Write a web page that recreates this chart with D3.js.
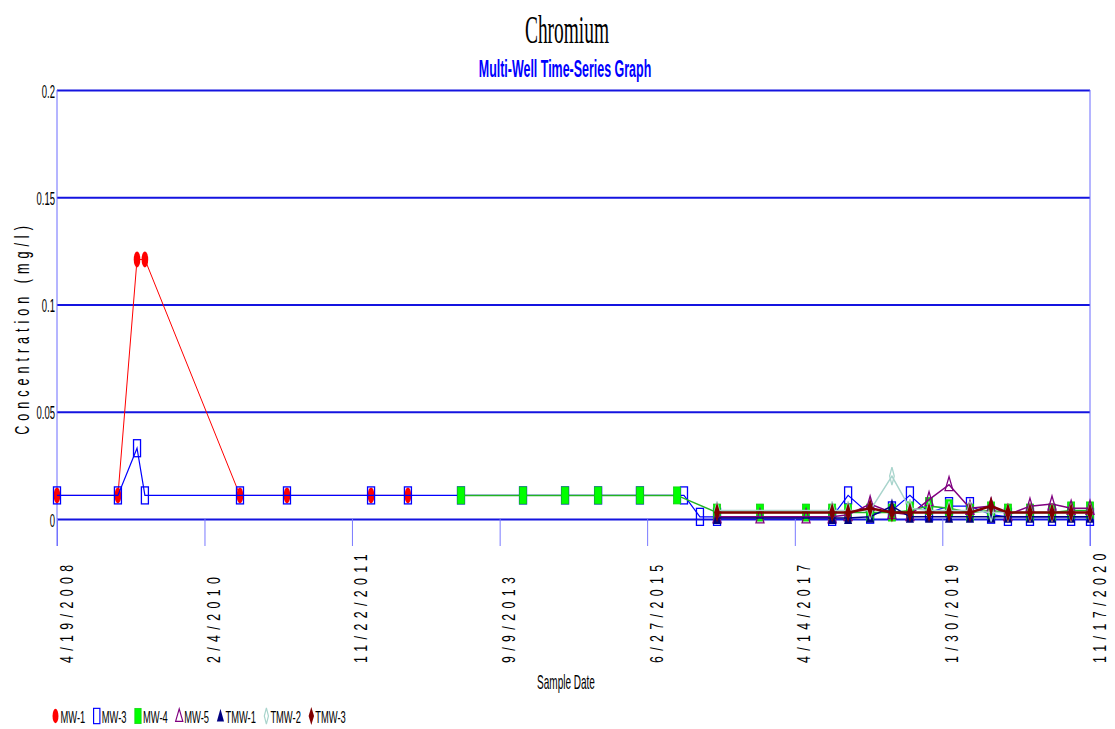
<!DOCTYPE html>
<html>
<head>
<meta charset="utf-8">
<script src="https://cdnjs.cloudflare.com/ajax/libs/d3/7.8.5/d3.min.js"></script>
<style>
  body { margin: 0; background: #fff; }
  text { font-family: "Liberation Sans", Arial, sans-serif; }
</style>
</head>
<body>
<div id="chart"></div>
<script>
// sample dates shared by all wells (null = well not sampled that day)
var sampleDates = ["2008-04-19", "2009-01-15", "2009-04-10", "2009-05-15", "2010-07-12",
  "2011-02-06", "2012-02-15", "2012-07-28", "2013-03-21", "2013-12-22", "2014-06-27",
  "2014-11-21", "2015-05-26", "2015-11-07", "2015-12-08", "2016-02-17", "2016-05-03",
  "2016-11-10", "2017-06-03", "2017-09-27", "2017-12-07", "2018-03-15", "2018-06-20",
  "2018-09-08", "2018-12-02", "2019-03-01", "2019-06-02", "2019-09-04", "2019-11-18",
  "2020-02-24", "2020-06-01", "2020-08-25", "2020-11-17"];

var mw1 = [0.011, 0.011, 0.121, 0.121, 0.011, 0.011, 0.011, 0.011, null, null, null,
  null, null, null, null, null, null, null, null, null, null, null, null, null, null,
  null, null, null, null, null, null, null, null];
var mw3 = [0.011, 0.011, 0.033, 0.011, 0.011, 0.011, 0.011, 0.011, 0.011, 0.011, 0.011,
  0.011, 0.011, null, 0.011, 0.001, 0.001, null, null, 0.001, 0.011, 0.002, 0.004,
  0.011, 0.003, 0.006, 0.006, 0.002, 0.001, 0.001, 0.001, 0.001, 0.001];
var mw4 = [null, null, null, null, null, null, null, null, 0.011, 0.011, 0.011,
  0.011, 0.011, 0.011, null, null, 0.003, 0.003, 0.003, 0.003, 0.003, 0.003, 0.003,
  0.004, 0.006, 0.005, 0.003, 0.004, 0.003, 0.003, 0.003, 0.004, 0.004];
var mw5 = [null, null, null, null, null, null, null, null, null, null, null,
  null, null, null, null, null, 0.001, 0.001, 0.001, 0.001, 0.002, 0.007, 0.003,
  0.002, 0.009, 0.016, 0.005, 0.006, 0.002, 0.006, 0.007, 0.005, 0.005];
var tmw1 = [null, null, null, null, null, null, null, null, null, null, null,
  null, null, null, null, null, 0.0005, null, null, 0.0005, 0.0005, 0.001, 0.006,
  0.001, 0.001, 0.001, 0.001, 0.001, 0.001, 0.001, 0.001, 0.001, 0.001];
var tmw2 = [null, null, null, null, null, null, null, null, null, null, null,
  null, null, null, null, null, 0.004, null, null, 0.004, 0.004, 0.004, 0.020,
  0.005, 0.004, 0.004, 0.004, 0.003, 0.003, 0.003, 0.003, 0.003, 0.003];
var tmw3 = [null, null, null, null, null, null, null, null, null, null, null,
  null, null, null, null, null, 0.003, null, null, 0.003, 0.003, 0.005, 0.003,
  0.003, 0.003, 0.003, 0.003, 0.006, 0.003, 0.003, 0.003, 0.003, 0.003];

var wellNames = ["MW-1", "MW-3", "MW-4", "MW-5", "TMW-1", "TMW-2", "TMW-3"];

var xTickDates = ["2008-04-19", "2010-02-04", "2011-11-22", "2013-09-09", "2015-06-27",
  "2017-04-14", "2019-01-30", "2020-11-17"];
var xTickLabels = ["4/19/2008", "2/4/2010", "11/22/2011", "9/9/2013", "6/27/2015",
  "4/14/2017", "1/30/2019", "11/17/2020"];
var yTicks = [0, 0.05, 0.1, 0.15, 0.2];
var yTickLabels = ["0", "0.05", "0.1", "0.15", "0.2"];

// ---- layout ----
var W = 1115, H = 729;
var plotLeft = 57, plotRight = 1090, plotTop = 90, zeroY = 519, frameBottom = 546;
var parse = d3.timeParse("%Y-%m-%d");

var svg = d3.select("#chart").append("svg")
    .attr("width", W)
    .attr("height", H);

var x = d3.scaleTime()
    .domain([parse(xTickDates[0]), parse(xTickDates[xTickDates.length - 1])])
    .range([plotLeft, plotRight]);
var y = d3.scaleLinear()
    .domain([0, 0.2])
    .range([zeroY, plotTop]);

// titles (the original uses tall narrow type, so squeeze horizontally)
svg.append("text")
    .attr("transform", "translate(567,43) scale(0.485,1)")
    .attr("text-anchor", "middle")
    .style("font-family", "'Liberation Serif', 'Times New Roman', serif")
    .style("font-size", "40px")
    .text("Chromium");

svg.append("text")
    .attr("transform", "translate(565,77) scale(0.53,1)")
    .attr("text-anchor", "middle")
    .style("font-size", "23.5px")
    .style("font-weight", "bold")
    .attr("fill", "#0000ff")
    .text("Multi-Well Time-Series Graph");

// y axis with gridlines
var yAxis = svg.append("g")
    .attr("transform", "translate(" + plotLeft + ",0)")
    .call(d3.axisLeft(y)
        .tickValues(yTicks)
        .tickSize(-(plotRight - plotLeft))
        .tickFormat(function(d, i) { return yTickLabels[i]; }));
yAxis.select(".domain").remove();
yAxis.selectAll(".tick line")
    .attr("stroke", "#1414e0")
    .attr("stroke-width", 2);
yAxis.selectAll(".tick text")
    .attr("x", null)
    .attr("dy", null)
    .attr("transform", "translate(-2,7) scale(0.5,1)")
    .style("font-size", "19px")
    .attr("fill", "#000");

// x axis ticks hanging below zero line
var xAxis = svg.append("g")
    .attr("transform", "translate(0," + zeroY + ")")
    .call(d3.axisBottom(x)
        .tickValues(xTickDates.map(parse))
        .tickSize(frameBottom - zeroY)
        .tickFormat(function(d, i) { return xTickLabels[i]; }));
xAxis.select(".domain").remove();
xAxis.selectAll(".tick line")
    .attr("stroke", "#7a7aff")
    .attr("stroke-width", 1);
xAxis.selectAll(".tick text")
    .attr("x", null)
    .attr("y", null)
    .attr("dy", null)
    .attr("text-anchor", "start")
    .attr("transform", "translate(15,144) rotate(-90) scale(0.65,1)")
    .style("font-size", "19px")
    .style("letter-spacing", "8.3px")
    .attr("fill", "#000");

// frame sides
[plotLeft, plotRight].forEach(function(px) {
  svg.append("line")
      .attr("x1", px).attr("x2", px)
      .attr("y1", plotTop).attr("y2", frameBottom)
      .attr("stroke", "#6a6aff")
      .attr("stroke-width", 1);
});

// axis titles
svg.append("text")
    .attr("transform", "translate(29,328) rotate(-90) scale(0.6,1)")
    .attr("text-anchor", "middle")
    .style("font-size", "21px")
    .style("letter-spacing", "8.3px")
    .text("Concentration (mg/l)");

svg.append("text")
    .attr("transform", "translate(566,689) scale(0.5,1)")
    .attr("text-anchor", "middle")
    .style("font-size", "20px")
    .text("Sample Date");

// ---- series ----
var styles = [
  { line: "#ff0000", width: 1,   shape: "ellipse",  color: "#ff0000", filled: true },
  { line: "#0000ff", width: 1.2, shape: "square",   color: "#0000ff", filled: false },
  { line: "#22b422", width: 1.5, shape: "square",   color: "#00ff00", filled: true },
  { line: "#800080", width: 1.5, shape: "triangle", color: "#800080", filled: false },
  { line: "#000080", width: 1.5, shape: "triangle", color: "#000080", filled: true },
  { line: "#a8d4cc", width: 1.5, shape: "diamond",  color: "#a8d4cc", filled: false },
  { line: "#800000", width: 2.5, shape: "diamond",  color: "#800000", filled: true }
];
var seriesValues = [mw1, mw3, mw4, mw5, tmw1, tmw2, tmw3];

function drawSymbol(g, st) {
  var s;
  if (st.shape === "ellipse") {
    s = g.append("ellipse").attr("rx", 3.3).attr("ry", 8);
  } else if (st.shape === "square") {
    s = g.append("rect").attr("x", -3.5).attr("y", -8.5).attr("width", 7).attr("height", 17);
  } else if (st.shape === "triangle") {
    s = g.append("path").attr("d", "M0,-8L4,6L-4,6Z");
  } else {
    s = st.filled ? g.append("path").attr("d", "M0,-10L3,0L0,10L-3,0Z")
                  : g.append("path").attr("d", "M0,-9L2.3,0L0,9L-2.3,0Z");
  }
  if (st.filled) {
    s.attr("fill", st.color).attr("stroke", st.shape === "square" ? "#10d010" : "none")
     .attr("stroke-width", 0.8);
  } else {
    s.attr("fill", "none").attr("stroke", st.color).attr("stroke-width", 1.3);
  }
  return s;
}

var line = d3.line()
    .x(function(d) { return x(d.date); })
    .y(function(d) { return y(d.value); });

var plot = svg.append("g");
seriesValues.forEach(function(vals, si) {
  var st = styles[si];
  var pts = [];
  vals.forEach(function(v, i) {
    if (v !== null) pts.push({ date: parse(sampleDates[i]), value: v });
  });
  var g = plot.append("g");
  g.append("path")
      .datum(pts)
      .attr("fill", "none")
      .attr("stroke", st.line)
      .attr("stroke-width", st.width)
      .attr("d", line);
  g.selectAll("g.pt")
    .data(pts)
    .enter().append("g")
      .attr("class", "pt")
      .attr("transform", function(d) { return "translate(" + x(d.date) + "," + y(d.value) + ")"; })
      .each(function() { drawSymbol(d3.select(this), st); });
});

// ---- legend ----
var legend = svg.append("g").attr("transform", "translate(52,716)");
var lx = 0;
wellNames.forEach(function(name, i) {
  var st = styles[i];
  var half = st.shape === "diamond" ? 2.5 : 3.5;
  var sym = legend.append("g").attr("transform", "translate(" + (lx + half) + ",0) scale(0.9)");
  drawSymbol(sym, st);
  var tx = lx + half * 2 + 1.5;
  var t = legend.append("text")
      .attr("transform", "translate(" + tx + ",6.5) scale(0.55,1)")
      .style("font-size", "17px")
      .text(name);
  lx = tx + t.node().getComputedTextLength() * 0.55 + 8;
});
</script>
</body>
</html>
